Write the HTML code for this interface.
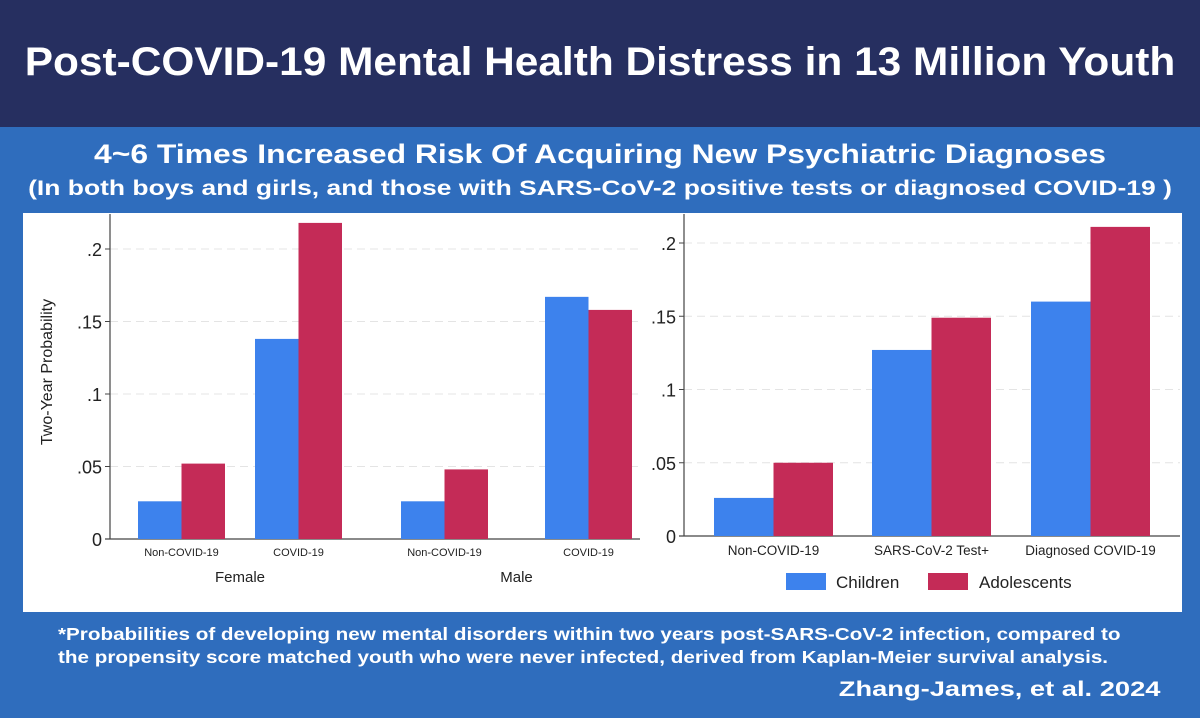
<!DOCTYPE html>
<html><head><meta charset="utf-8">
<style>
body{margin:0;width:1200px;height:718px;overflow:hidden;background:#2f6dbd;font-family:"Liberation Sans",sans-serif;}
#hdr{position:absolute;left:0;top:0;width:1200px;height:127px;background:#262f60;}
.t{position:absolute;color:#fff;font-weight:bold;white-space:nowrap;}
</style></head><body>
<div id="hdr"></div>
<div class="t" style="left:0;width:1200px;text-align:center;top:40px;font-size:40px;transform:scaleX(1.06);transform-origin:600px 0;">Post-COVID-19 Mental Health Distress in 13 Million Youth</div>
<div class="t" style="left:0;width:1200px;text-align:center;top:139px;font-size:27px;transform:scaleX(1.18);transform-origin:600px 0;">4~6 Times Increased Risk Of Acquiring New Psychiatric Diagnoses</div>
<div class="t" style="left:0;width:1200px;text-align:center;top:177px;font-size:21px;transform:scaleX(1.26);transform-origin:600px 0;">(In both boys and girls, and those with SARS-CoV-2 positive tests or diagnosed COVID-19 )</div>
<svg id="chart" width="1200" height="718" style="position:absolute;left:0;top:0">
<rect x="23" y="213" width="1159" height="399" fill="#fff"/>
</svg>
<div class="t" style="left:58px;top:623px;font-size:17.5px;line-height:23px;transform:scaleX(1.18);transform-origin:0 0;">*Probabilities of developing new mental disorders within two years post-SARS-CoV-2 infection, compared to<br>the propensity score matched youth who were never infected, derived from Kaplan-Meier survival analysis.</div>
<div class="t" style="right:40px;top:678px;font-size:21px;transform:scaleX(1.3);transform-origin:100% 0;">Zhang-James, et al. 2024</div>
<script>
const leftCats=["Non-COVID-19","COVID-19","Non-COVID-19","COVID-19"];
const leftGroups=["Female","Male"];
const leftChildren=[0.026,0.138,0.026,0.167];
const leftAdolescents=[0.052,0.218,0.048,0.158];
const rightCats=["Non-COVID-19","SARS-CoV-2 Test+","Diagnosed COVID-19"];
const rightChildren=[0.026,0.127,0.160];
const rightAdolescents=[0.050,0.149,0.211];
const yTicks=[0,0.05,0.1,0.15,0.2];
const yTickLabels=["0",".05",".1",".15",".2"];
const BLUE="#3d82ed",RED="#c42b57";
const svg=document.getElementById('chart');
const NS="http://www.w3.org/2000/svg";
function mk(tag,attrs,txt){const e=document.createElementNS(NS,tag);for(const k in attrs)e.setAttribute(k,attrs[k]);if(txt!=null)e.textContent=txt;svg.appendChild(e);return e;}
function axes(x0,x1,y0,yTop,yScale,fs){
  yTicks.forEach((v,i)=>{const y=yScale(v);
    if(v>0){const g=mk('line',{x1:x0,x2:x1,y1:y,y2:y,stroke:'#e4e4e4','stroke-dasharray':'8 5'});
    
    }
    const tk=mk('line',{x1:x0-5,x2:x0,y1:y,y2:y,stroke:'#444'});
    
    
    const t=mk('text',{x:x0-8,y:y+7,'text-anchor':'end','font-size':fs,fill:'#222'},yTickLabels[i]);
    
    
  });
  const a=mk('line',{x1:x0,x2:x0,y1:yTop,y2:y0,stroke:'#444','stroke-width':1.2});
  
  
  const b=mk('line',{x1:x0-5,x2:x1,y1:y0,y2:y0,stroke:'#444','stroke-width':1.2});
  
  
}
function bar(x,w,v,yScale,col,name){const y=yScale(v);const r=mk('rect',{x:x,y:y,width:w,height:yScale(0)-y,fill:col});
  
  }
// left chart
const L0=539,Ls=(249-539)/0.2;const ly=v=>L0+v*Ls;
axes(110,640,L0,214,ly,18);
const leftStarts=[138,255,401,545];const bw=43.5;
leftCats.forEach((c,i)=>{
  bar(leftStarts[i],bw,leftChildren[i],ly,BLUE,'bar-children');
  bar(leftStarts[i]+bw,bw,leftAdolescents[i],ly,RED,'bar-adolescents');
  const t=mk('text',{x:leftStarts[i]+bw,y:556,'text-anchor':'middle','font-size':11,fill:'#222'},c);
  
  
});
leftGroups.forEach((g,i)=>{const cx=(leftStarts[2*i]+leftStarts[2*i+1]+2*bw)/2;
  const t=mk('text',{x:cx,y:582,'text-anchor':'middle','font-size':15,fill:'#222'},g);
  
  });
const yt=mk('text',{x:0,y:0,'text-anchor':'middle','font-size':16,fill:'#222',transform:'translate(52,372) rotate(-90)'},'Two-Year Probability');


// right chart
const R0=536,Rs=(243-536)/0.2;const ry=v=>R0+v*Rs;
axes(684,1180,R0,214,ry,18);
const rightStarts=[714,872,1031];const rw=59.5;
rightCats.forEach((c,i)=>{
  bar(rightStarts[i],rw,rightChildren[i],ry,BLUE,'bar-children');
  bar(rightStarts[i]+rw,rw,rightAdolescents[i],ry,RED,'bar-adolescents');
  const t=mk('text',{x:rightStarts[i]+rw,y:555,'text-anchor':'middle','font-size':13.5,fill:'#222'},c);
  
  
});
// legend
const lg1=mk('rect',{x:786,y:573,width:40,height:17,fill:BLUE});


const lt1=mk('text',{x:836,y:588,'font-size':17,fill:'#222'},'Children');


const lg2=mk('rect',{x:928,y:573,width:40,height:17,fill:RED});


const lt2=mk('text',{x:979,y:588,'font-size':17,fill:'#222'},'Adolescents');


</script>
</body></html>
